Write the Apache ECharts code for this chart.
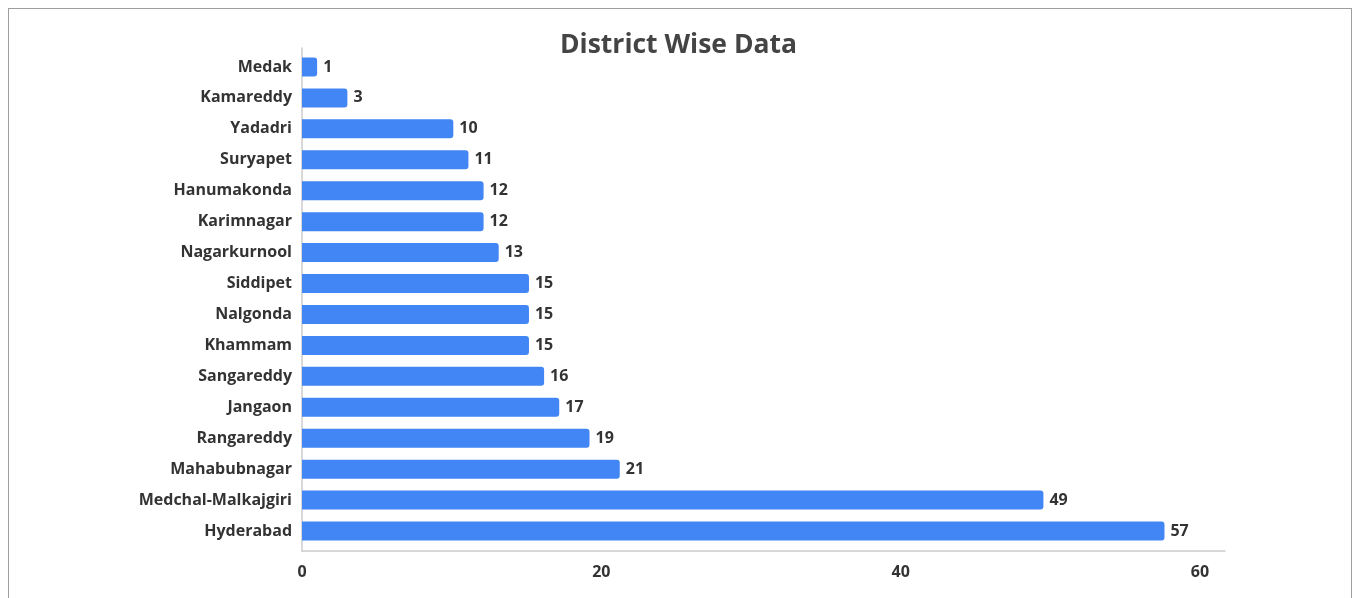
<!DOCTYPE html>
<html><head><meta charset="utf-8">
<script src="https://cdn.jsdelivr.net/npm/echarts@6/dist/echarts.min.js"></script>
<style>
html,body{margin:0;padding:0;background:#fff;overflow:hidden;}
#frame{position:absolute;left:8px;top:8px;width:1344px;height:700px;border:1px solid #9e9e9e;box-sizing:border-box;}
#chart{position:absolute;left:0;top:0;width:1357px;height:598px;}
</style></head>
<body>
<div id="frame"></div>
<div id="chart"></div>
<script>
const districts = ["Medak","Kamareddy","Yadadri","Suryapet","Hanumakonda","Karimnagar","Nagarkurnool","Siddipet","Nalgonda","Khammam","Sangareddy","Jangaon","Rangareddy","Mahabubnagar","Medchal-Malkajgiri","Hyderabad"];
const counts = [1,3,10,11,12,12,13,15,15,15,16,17,19,21,49,57];
const xTicks = [0,20,40,60];

const FONT = "'Open Sans', sans-serif";
const chart = echarts.init(document.getElementById('chart'), null, {renderer:'canvas'});
chart.setOption({
  animation:false,
  title:{text:'District Wise Data', left:'center', top:27, textStyle:{fontFamily:FONT,fontSize:26.5,fontWeight:'bold',color:'#444'}},
  grid:[
    {left:302, right:132, top:51.5, height:495, containLabel:false},
    {left:302, right:132, top:48, height:503, containLabel:false}
  ],
  xAxis:[
    {gridIndex:0, type:'value', min:0, max:61, show:false},
    {gridIndex:1, type:'value', min:0, max:61.67, interval:20,
     axisLine:{show:true,lineStyle:{color:'#cccccc',width:1.5}}, axisTick:{show:false}, splitLine:{show:false},
     axisLabel:{show:true, showMaxLabel:false, margin:13, fontFamily:FONT, fontSize:16, fontWeight:'bold', color:'#333',
       formatter:v => xTicks.includes(v) ? String(v) : ''}}
  ],
  yAxis:[
    {gridIndex:0, type:'category', data:districts, inverse:true,
     axisLine:{show:false}, axisTick:{show:false},
     axisLabel:{margin:10, fontFamily:FONT, fontSize:16, fontWeight:'bold', color:'#333'}},
    {gridIndex:1, type:'value', min:0, max:1, axisLabel:{show:false}, splitLine:{show:false}, axisTick:{show:false},
     axisLine:{show:true,lineStyle:{color:'#cccccc',width:1.5}}}
  ],
  series:[{
    type:'bar', xAxisIndex:0, yAxisIndex:0, data:counts, barWidth:19,
    itemStyle:{color:'#4285F4', borderRadius:[0,3,3,0]},
    label:{show:true, position:'right', distance:6, fontFamily:FONT, fontSize:16, fontWeight:'bold', color:'#333'}
  }]
});
</script>
</body></html>
